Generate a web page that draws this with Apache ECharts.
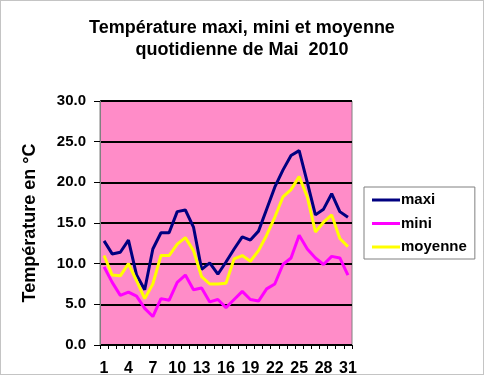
<!DOCTYPE html>
<html>
<head>
<meta charset="utf-8">
<script src="https://cdn.jsdelivr.net/npm/echarts@6/dist/echarts.min.js"></script>
<style>
html,body{margin:0;padding:0;background:#fff;}
#c{width:484px;height:375px;}
</style>
</head>
<body>
<div id="c"></div>
<script>
var days = [];
for (var d = 1; d <= 31; d++) days.push(String(d));
var maxi = [12.8, 11.2, 11.4, 12.9, 8.6, 6.8, 11.8, 13.8, 13.8, 16.4, 16.6, 14.5, 9.3, 10.1, 8.7,
            10.2, 11.8, 13.3, 12.9, 14.0, 16.7, 19.4, 21.5, 23.3, 23.9, 20.0, 16.0, 16.7, 18.6, 16.4, 15.7];
var mini = [9.6, 7.7, 6.1, 6.5, 6.0, 4.5, 3.5, 5.7, 5.5, 7.7, 8.6, 6.8, 7.0, 5.3, 5.6,
            4.6, 5.6, 6.6, 5.6, 5.4, 6.9, 7.5, 9.9, 10.7, 13.5, 11.8, 10.7, 9.9, 10.9, 10.7, 8.6];
var moyenne = [11.0, 8.6, 8.5, 10.0, 7.9, 5.7, 7.5, 11.0, 11.0, 12.4, 13.2, 11.6, 8.4, 7.5, 7.5,
               7.6, 10.6, 11.0, 10.3, 11.6, 13.5, 15.7, 18.2, 19.1, 20.7, 18.2, 13.9, 15.1, 16.0, 13.1, 12.1];
var seriesNames = ['maxi', 'mini', 'moyenne'];
var seriesColors = ['#000080', '#FF00FF', '#FFFF00'];
var titleText = 'Température maxi, mini et moyenne\nquotidienne de Mai  2010';
var yTitle = 'Température en °C';

var font = 'Arial, "Liberation Sans", sans-serif';
var chart = echarts.init(document.getElementById('c'), null, {renderer: 'canvas'});
var data = [maxi, mini, moyenne];
chart.setOption({
  animation: false,
  backgroundColor: '#fff',
  title: {
    text: titleText,
    left: 'center',
    top: 12,
    textStyle: {fontFamily: font, fontWeight: 'bold', fontSize: 18, color: '#000', lineHeight: 22}
  },
  graphic: [{
    type: 'rect', shape: {x: 0.5, y: 0.5, width: 483, height: 374},
    style: {fill: 'none', stroke: '#888', lineWidth: 1, lineDash: [1, 1]}, silent: true, z: 100
  }],
  legend: {
    orient: 'vertical',
    left: 364, top: 187,
    padding: [5, 8, 4, 8],
    icon: 'rect',
    itemWidth: 28, itemHeight: 3, itemGap: 7.5,
    backgroundColor: '#fff',
    borderColor: '#808080', borderWidth: 1,
    textStyle: {fontFamily: font, fontWeight: 'bold', fontSize: 15, color: '#000', lineHeight: 16, padding: [0, 0, 0, -4]},
    data: seriesNames
  },
  grid: {
    left: 100, right: 132, top: 101, bottom: 30,
    outerBoundsMode: 'none',
    containLabel: false,
    show: true, backgroundColor: '#FF8CC8', borderColor: '#808080', borderWidth: 1
  },
  xAxis: {
    type: 'category',
    data: days,
    boundaryGap: true,
    axisLine: {show: true, lineStyle: {color: '#000', width: 1}},
    axisTick: {show: true, interval: 0, length: 4, lineStyle: {color: '#000'}},
    axisLabel: {interval: 2, margin: 16, fontFamily: font, fontWeight: 'bold', fontSize: 16, color: '#000'},
    splitLine: {show: false}
  },
  yAxis: {
    type: 'value',
    min: 0, max: 30, interval: 5,
    name: yTitle,
    nameLocation: 'middle',
    nameGap: 61,
    nameTextStyle: {fontFamily: font, fontWeight: 'bold', fontSize: 18, color: '#000'},
    axisLine: {show: true, lineStyle: {color: '#808080'}},
    axisTick: {show: true, inside: false, length: 6, lineStyle: {color: '#000'}},
    axisLabel: {margin: 14, fontFamily: font, fontWeight: 'bold', fontSize: 15, color: '#000',
      formatter: function (v) { return v.toFixed(1); }},
    splitLine: {show: true, lineStyle: {color: '#000', width: 2}}
  },
  series: seriesNames.map(function (n, i) {
    return {
      name: n, type: 'line', data: data[i],
      symbol: 'none', showSymbol: false,
      lineStyle: {color: seriesColors[i], width: 3},
      itemStyle: {color: seriesColors[i]}
    };
  })
});
</script>
</body>
</html>
